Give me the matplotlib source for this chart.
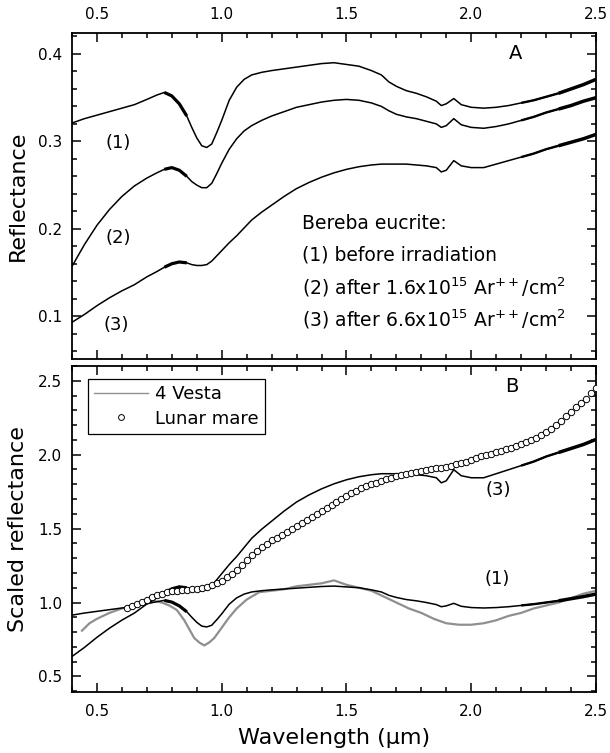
import matplotlib
matplotlib.use("Agg")
import matplotlib.pyplot as plt
from matplotlib.ticker import MultipleLocator
from matplotlib.lines import Line2D
import numpy as np

plt.rcParams["font.family"] = ["DejaVu Sans"]
plt.rcParams["mathtext.fontset"] = "dejavusans"

# wavelength grid of the lab spectra (um)
wl_lab = [0.40, 0.45, 0.50, 0.55, 0.60, 0.65, 0.70, 0.74, 0.77, 0.80, 0.83,
          0.86, 0.88, 0.90, 0.92, 0.94, 0.96, 0.98, 1.00, 1.03, 1.06, 1.09,
          1.12, 1.16, 1.20, 1.25, 1.30, 1.35, 1.40, 1.45, 1.50, 1.55, 1.60,
          1.64, 1.67, 1.70, 1.74, 1.78, 1.82, 1.86, 1.88, 1.90, 1.93, 1.96,
          2.00, 2.05, 2.10, 2.15, 2.20, 2.25, 2.30, 2.35, 2.40, 2.45, 2.50]

# (1) before irradiation
refl_1 = [0.321, 0.326, 0.330, 0.334, 0.338, 0.342, 0.348, 0.353, 0.356, 0.352, 0.343,
          0.329, 0.316, 0.304, 0.295, 0.293, 0.297, 0.310, 0.324, 0.347, 0.362, 0.371,
          0.376, 0.379, 0.381, 0.383, 0.385, 0.387, 0.389, 0.390, 0.388, 0.386, 0.381,
          0.376, 0.368, 0.363, 0.358, 0.355, 0.351, 0.346, 0.341, 0.343, 0.349, 0.342,
          0.339, 0.338, 0.339, 0.341, 0.344, 0.347, 0.351, 0.355, 0.360, 0.365, 0.371]

# (2) after 1.6e15 Ar++/cm2
refl_2 = [0.157, 0.182, 0.204, 0.222, 0.237, 0.249, 0.258, 0.264, 0.268, 0.270, 0.267,
          0.260, 0.254, 0.250, 0.247, 0.247, 0.252, 0.263, 0.275, 0.291, 0.303, 0.312,
          0.318, 0.324, 0.329, 0.334, 0.339, 0.342, 0.345, 0.347, 0.348, 0.347, 0.344,
          0.340, 0.335, 0.331, 0.328, 0.326, 0.323, 0.320, 0.316, 0.318, 0.326, 0.319,
          0.316, 0.315, 0.317, 0.320, 0.324, 0.328, 0.333, 0.337, 0.341, 0.346, 0.350]

# (3) after 6.6e15 Ar++/cm2
refl_3 = [0.093, 0.102, 0.112, 0.121, 0.129, 0.136, 0.145, 0.151, 0.156, 0.160, 0.162,
          0.161, 0.159, 0.158, 0.158, 0.159, 0.163, 0.169, 0.175, 0.184, 0.192, 0.201,
          0.210, 0.219, 0.227, 0.237, 0.246, 0.253, 0.259, 0.264, 0.268, 0.271, 0.273,
          0.274, 0.274, 0.274, 0.274, 0.273, 0.272, 0.270, 0.265, 0.267, 0.278, 0.272,
          0.270, 0.270, 0.274, 0.278, 0.282, 0.286, 0.291, 0.295, 0.299, 0.303, 0.308]

# scale factors used for panel B (normalised near 0.75 um)
scale_1 = 2.85
scale_3 = 6.83

# 4 Vesta telescopic spectrum
wl_vesta = [0.44, 0.47, 0.50, 0.55, 0.60, 0.65, 0.70, 0.73, 0.76, 0.79, 0.82, 0.85,
            0.87, 0.89, 0.91, 0.93, 0.95, 0.97, 1.00, 1.03, 1.06, 1.10, 1.15, 1.20,
            1.25, 1.30, 1.35, 1.40, 1.45, 1.50, 1.55, 1.60, 1.65, 1.70, 1.75, 1.80,
            1.85, 1.90, 1.95, 2.00, 2.05, 2.10, 2.15, 2.20, 2.25, 2.30, 2.35, 2.40,
            2.45, 2.50]
vesta = [0.81, 0.86, 0.89, 0.93, 0.96, 0.98, 1.00, 1.01, 1.00, 0.98, 0.95, 0.88,
         0.82, 0.76, 0.73, 0.71, 0.73, 0.76, 0.83, 0.90, 0.96, 1.02, 1.07, 1.08,
         1.09, 1.11, 1.12, 1.13, 1.15, 1.12, 1.10, 1.08, 1.04, 1.00, 0.96, 0.93,
         0.89, 0.86, 0.85, 0.85, 0.86, 0.88, 0.91, 0.93, 0.96, 0.98, 1.00, 1.03,
         1.06, 1.08]

# lunar mare spectrum (open circles), 0.62-2.50 um every 0.02 um
wl_mare = np.round(np.arange(0.62, 2.501, 0.02), 2)
mare = [0.960, 0.975, 0.990, 1.005, 1.020, 1.035, 1.048, 1.060, 1.068, 1.075,
        1.080, 1.083, 1.086, 1.090, 1.095, 1.100, 1.108, 1.118, 1.130, 1.148,
        1.170, 1.195, 1.222, 1.255, 1.290, 1.322, 1.350, 1.375, 1.398, 1.420,
        1.440, 1.460, 1.480, 1.500, 1.520, 1.540, 1.560, 1.580, 1.600, 1.620,
        1.640, 1.660, 1.680, 1.700, 1.720, 1.740, 1.757, 1.772, 1.786, 1.800,
        1.812, 1.824, 1.835, 1.845, 1.853, 1.861, 1.868, 1.875, 1.882, 1.889,
        1.895, 1.901, 1.907, 1.913, 1.920, 1.927, 1.935, 1.944, 1.954, 1.965,
        1.976, 1.988, 1.998, 2.008, 2.018, 2.028, 2.038, 2.048, 2.060, 2.072,
        2.086, 2.100, 2.116, 2.133, 2.152, 2.173, 2.200, 2.230, 2.260, 2.290,
        2.320, 2.350, 2.380, 2.415, 2.450]

# wavelength ranges where the lab spectra are noisy, drawn with a thicker line
noisy = [(0.78, 0.87, 2.3), (2.20, 2.36, 1.7), (2.34, 2.50, 2.5)]


def draw_spectrum(ax, wl, refl, lw=1.1):
    wl = np.asarray(wl)
    refl = np.asarray(refl)
    ax.plot(wl, refl, color="black", lw=lw, zorder=3)
    for lo, hi, nlw in noisy:
        m = (wl >= lo - 0.02) & (wl <= hi)
        ax.plot(wl[m], refl[m], color="black", lw=nlw, zorder=3,
                solid_capstyle="butt")


def style_axes(ax):
    for s in ax.spines.values():
        s.set_linewidth(1.3)
    ax.set_xlim(0.4, 2.5)
    ax.xaxis.set_major_locator(MultipleLocator(0.5))
    ax.xaxis.set_minor_locator(MultipleLocator(0.1))
    ax.tick_params(which="both", direction="in", top=True, bottom=True,
                   left=True, right=True, width=1.1, labelsize=11)
    ax.tick_params(which="major", length=6.5)
    ax.tick_params(which="minor", length=3.6)
    ax.tick_params(axis="y", pad=7)


fig = plt.figure(figsize=(6.1, 7.53), dpi=100)
ax_a = fig.add_axes([72 / 610, 1 - 359 / 753, 524 / 610, 326 / 753])
ax_b = fig.add_axes([72 / 610, 1 - 692 / 753, 524 / 610, 326 / 753])

# Panel A
draw_spectrum(ax_a, wl_lab, refl_1)
draw_spectrum(ax_a, wl_lab, refl_2)
draw_spectrum(ax_a, wl_lab, refl_3)
style_axes(ax_a)
ax_a.set_ylim(0.051, 0.424)
ax_a.yaxis.set_major_locator(MultipleLocator(0.1))
ax_a.yaxis.set_minor_locator(MultipleLocator(0.02))
ax_a.tick_params(axis="x", labeltop=True, labelbottom=False, pad=8)
ax_a.set_ylabel("Reflectance", fontsize=16, va="center")
ax_a.yaxis.set_label_coords(-0.103, 0.5)

ax_a.text(2.176, 0.401, "A", fontsize=14, ha="center", va="center")
for lab, xx, yy in [("(1)", 0.584, 0.298), ("(2)", 0.584, 0.190), ("(3)", 0.576, 0.090)]:
    ax_a.text(xx, yy, lab, fontsize=13, ha="center", va="center")

notes = ["Bereba eucrite:",
         "(1) before irradiation",
         r"(2) after 1.6x10$^{15}$ Ar$^{++}$/cm$^{2}$",
         r"(3) after 6.6x10$^{15}$ Ar$^{++}$/cm$^{2}$"]
for i, t in enumerate(notes):
    ax_a.text(1.322, 0.2064 - i * 0.0366, t, fontsize=13.5, ha="left", va="center")

# Panel B
ax_b.plot(wl_vesta, vesta, color="#8f8f8f", lw=1.6, zorder=2)
draw_spectrum(ax_b, wl_lab, np.asarray(refl_1) * scale_1)
draw_spectrum(ax_b, wl_lab, np.asarray(refl_3) * scale_3)
ax_b.plot(wl_mare, mare, ls="none", marker="o", ms=4.6, mfc="white",
          mec="black", mew=0.7, zorder=4)
style_axes(ax_b)
ax_b.set_ylim(0.395, 2.60)
ax_b.yaxis.set_major_locator(MultipleLocator(0.5))
ax_b.yaxis.set_minor_locator(MultipleLocator(0.1))
ax_b.tick_params(axis="x", pad=9)
ax_b.set_ylabel("Scaled reflectance", fontsize=16, va="center")
ax_b.yaxis.set_label_coords(-0.103, 0.5)
ax_b.set_xlabel("Wavelength (\u03bcm)", fontsize=16, va="center")
ax_b.xaxis.set_label_coords(0.5, -0.141)

ax_b.text(2.164, 2.46, "B", fontsize=14, ha="center", va="center")
ax_b.text(2.107, 1.764, "(3)", fontsize=13, ha="center", va="center")
ax_b.text(2.103, 1.16, "(1)", fontsize=13, ha="center", va="center")

handles = [Line2D([], [], color="#8f8f8f", lw=1.0),
           Line2D([], [], ls="none", marker="o", ms=4.2, mfc="white", mec="black", mew=0.7)]
leg = ax_b.legend(handles, ["4 Vesta", "Lunar mare"], loc="upper left",
                  bbox_to_anchor=(0.0305, 0.960), borderaxespad=0, fontsize=13,
                  fancybox=False, framealpha=1, edgecolor="black",
                  handlelength=3.0, handletextpad=0.35, labelspacing=0.35,
                  borderpad=0.35)
leg.get_frame().set_linewidth(0.9)

fig.savefig("out.png", dpi=100)
